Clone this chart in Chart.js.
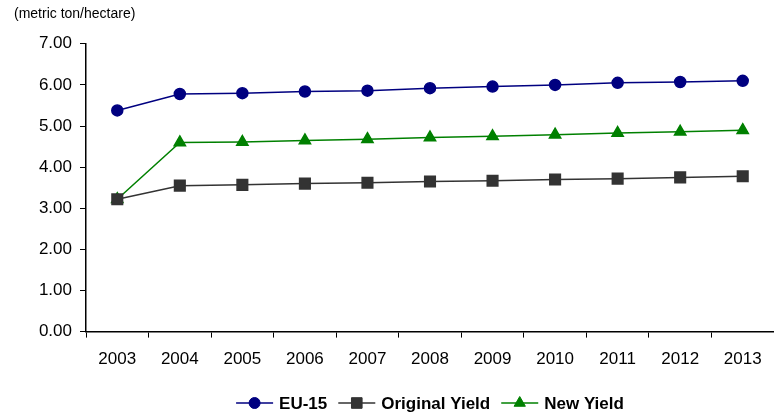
<!DOCTYPE html>
<html>
<head>
<meta charset="utf-8">
<script src="https://cdn.jsdelivr.net/npm/chart.js@4"></script>
<style>
  html, body { margin: 0; padding: 0; background: #fff; }
  #wrap { width: 774px; height: 416px; }
</style>
</head>
<body>
<div id="wrap"><canvas id="myChart"></canvas></div>
<script>
// data
const years = ["2003", "2004", "2005", "2006", "2007", "2008", "2009", "2010", "2011", "2012", "2013"];
const eu15 = [5.38, 5.78, 5.80, 5.84, 5.86, 5.92, 5.96, 6.00, 6.05, 6.07, 6.10];
const originalYield = [3.22, 3.55, 3.57, 3.60, 3.62, 3.65, 3.67, 3.70, 3.72, 3.75, 3.78];
const newYield = [3.22, 4.60, 4.61, 4.65, 4.68, 4.72, 4.75, 4.79, 4.83, 4.86, 4.90];
const unitLabel = "(metric ton/hectare)";

const fontFamily = "'Liberation Sans', Arial, sans-serif";

// legend drawn by hand so the line runs through the marker, like the original
const lineLegend = {
  id: "lineLegend",
  afterDraw(chart) {
    const ctx = chart.ctx;
    const area = chart.chartArea;
    const y = 403;
    const segLen = 37;
    const gap = 6;
    const itemGap = 11;
    ctx.save();
    ctx.font = "bold 17px " + fontFamily;
    ctx.textBaseline = "middle";
    const items = chart.data.datasets.map((ds) => ({
      ds,
      w: segLen + gap + ctx.measureText(ds.label).width,
    }));
    const total = items.reduce((s, it) => s + it.w, 0) + itemGap * (items.length - 1);
    // centred under the plot area, not the whole canvas
    let x = (area.left + area.right - total) / 2;
    items.forEach(({ ds, w }) => {
      ctx.strokeStyle = ds.borderColor;
      ctx.lineWidth = 1.5;
      ctx.beginPath();
      ctx.moveTo(x, y);
      ctx.lineTo(x + segLen, y);
      ctx.stroke();
      ctx.fillStyle = ds.pointBackgroundColor;
      ctx.strokeStyle = ds.pointBorderColor;
      ctx.lineWidth = 1;
      Chart.helpers.drawPoint(ctx, {
        pointStyle: ds.pointStyle,
        radius: ds.pointRadius,
        rotation: 0,
        borderWidth: 1,
      }, x + segLen / 2, y);
      ctx.fillStyle = "#000";
      ctx.fillText(ds.label, x + segLen + gap, y + 1);
      x += w + itemGap;
    });
    ctx.restore();
  },
};

const ctx = document.getElementById("myChart").getContext("2d");
new Chart(ctx, {
  type: "line",
  data: {
    labels: years,
    datasets: [
      {
        label: "EU-15",
        data: eu15,
        borderColor: "#000080",
        borderWidth: 1.5,
        pointStyle: "circle",
        pointRadius: 5.5,
        pointBackgroundColor: "#000080",
        pointBorderColor: "#000080",
      },
      {
        label: "Original Yield",
        data: originalYield,
        borderColor: "#333333",
        borderWidth: 1.5,
        pointStyle: "rect",
        pointRadius: 7.5,
        pointBackgroundColor: "#333333",
        pointBorderColor: "#333333",
      },
      {
        label: "New Yield",
        data: newYield,
        borderColor: "#008000",
        borderWidth: 1.5,
        pointStyle: "triangle",
        pointRadius: 6.5,
        pointBackgroundColor: "#008000",
        pointBorderColor: "#008000",
      },
    ],
  },
  options: {
    responsive: true,
    maintainAspectRatio: false,
    animation: false,
    layout: { autoPadding: false, padding: { left: 14, right: 0, top: 0, bottom: 34 } },
    scales: {
      x: {
        offset: true,
        grid: {
          display: true,
          drawOnChartArea: false,
          offset: true,
          color: "#000",
          tickLength: 6,
          lineWidth: 1,
        },
        border: { color: "#000", width: 1.5 },
        ticks: { color: "#000", font: { size: 17, family: fontFamily }, padding: 12 },
      },
      y: {
        min: 0,
        max: 7,
        afterFit(scale) { scale.width = 72; },
        grid: {
          display: true,
          drawOnChartArea: false,
          color: "#000",
          tickLength: 6,
        },
        border: { color: "#000", width: 1.5 },
        ticks: {
          stepSize: 1,
          color: "#000",
          font: { size: 17, family: fontFamily },
          padding: 8,
          callback: (v) => Number(v).toFixed(2),
        },
      },
    },
    plugins: {
      legend: { display: false },
      tooltip: { enabled: false },
      title: {
        display: true,
        text: unitLabel,
        align: "start",
        color: "#000",
        font: { size: 14, weight: "normal", family: fontFamily },
        padding: { top: 6, bottom: 21 },
      },
    },
  },
  plugins: [lineLegend],
});
</script>
</body>
</html>
